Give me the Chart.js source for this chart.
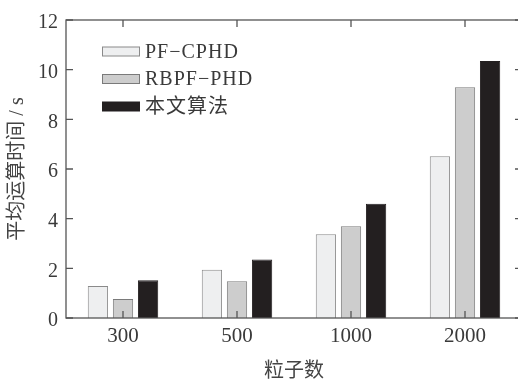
<!DOCTYPE html>
<html>
<head>
<meta charset="utf-8">
<script src="https://cdn.jsdelivr.net/npm/chart.js@4/dist/chart.umd.min.js"></script>
<style>
  html, body { margin: 0; padding: 0; overflow: hidden; background: #fff; }
</style>
</head>
<body>
<canvas id="chart" width="526" height="385"></canvas>
<script>
// data
const categories = ["300", "500", "1000", "2000"];
const seriesNames = ["PF\u2212CPHD", "RBPF\u2212PHD", "本文算法"];
const pfCphd = [1.29, 1.94, 3.37, 6.51];
const rbpfPhd = [0.77, 1.48, 3.69, 9.29];
const ours = [1.52, 2.36, 4.60, 10.35];
const yTicks = [0, 2, 4, 6, 8, 10, 12];

const fillColors = ["#eeeff0", "#cdcdcd", "#231f20"];
const edgeColors = ["#8a8a8a", "#7a7a7a", "#231f20"];
const fontFamily = "'Liberation Serif', 'Noto Sans CJK SC', serif";
const textColor = "#3a3a3a";

// frame with inward ticks + legend inside the plot
const framePlugin = {
  id: "frame",
  afterDatasetsDraw(chart) {
    const { ctx, chartArea: a, scales: { x, y } } = chart;
    ctx.save();
    ctx.strokeStyle = "#555";
    ctx.lineWidth = 1.3;
    ctx.strokeRect(a.left, a.top, a.right - a.left, a.bottom - a.top);
    ctx.beginPath();
    categories.forEach((c, i) => {
      const px = x.getPixelForValue(i);
      ctx.moveTo(px, a.bottom);
      ctx.lineTo(px, a.bottom - 7);
      ctx.moveTo(px, a.top);
      ctx.lineTo(px, a.top + 7);
    });
    yTicks.forEach((v) => {
      const py = y.getPixelForValue(v);
      ctx.moveTo(a.left, py);
      ctx.lineTo(a.left + 7, py);
      ctx.moveTo(a.right, py);
      ctx.lineTo(a.right - 7, py);
    });
    ctx.stroke();

    // legend
    const lx = 102, ly = 51.5, step = 27.5;
    ctx.font = "20px " + fontFamily;
    ctx.textBaseline = "middle";
    ctx.textAlign = "left";
    ctx.letterSpacing = "1px";
    chart.data.datasets.forEach((ds, i) => {
      const cy = ly + i * step;
      ctx.fillStyle = ds.backgroundColor;
      ctx.fillRect(lx, cy - 4.5, 38, 9);
      ctx.strokeStyle = ds.borderColor;
      ctx.lineWidth = 1;
      ctx.strokeRect(lx + 0.5, cy - 4.5, 37, 9);
      ctx.fillStyle = textColor;
      ctx.fillText(ds.label, lx + 43, cy + 1);
    });
    ctx.restore();
  },
};

new Chart(document.getElementById("chart").getContext("2d"), {
  type: "bar",
  data: {
    labels: categories,
    datasets: [pfCphd, rbpfPhd, ours].map((vals, i) => ({
      label: seriesNames[i],
      data: vals,
      backgroundColor: fillColors[i],
      borderColor: edgeColors[i],
      borderWidth: 1,
      categoryPercentage: 0.66,
      barPercentage: 0.81,
    })),
  },
  options: {
    responsive: false,
    animation: false,
    layout: { padding: { top: 16, right: 4, left: 0, bottom: 0 } },
    plugins: { legend: { display: false }, tooltip: { enabled: false } },
    scales: {
      x: {
        offset: true,
        grid: { display: false, drawTicks: false },
        border: { display: false },
        ticks: { color: textColor, padding: 6, font: { family: fontFamily, size: 21 } },
        title: {
          display: true,
          text: "粒子数",
          color: "#444",
          padding: { top: 0, bottom: 1 },
          font: { family: fontFamily, size: 20 },
        },
        afterFit: (scale) => { scale.height = 67; },
      },
      y: {
        min: 0,
        max: 12,
        grid: { display: false, drawTicks: false },
        border: { display: false },
        ticks: {
          stepSize: 2,
          color: textColor,
          padding: 8,
          labelOffset: 3,
          font: { family: fontFamily, size: 20 },
        },
        title: {
          display: true,
          text: "平均运算时间 / s",
          color: "#444",
          padding: { top: 6, bottom: 0 },
          font: { family: fontFamily, size: 20 },
        },
        afterFit: (scale) => { scale.width = 66; },
      },
    },
  },
  plugins: [framePlugin],
});
</script>
</body>
</html>
